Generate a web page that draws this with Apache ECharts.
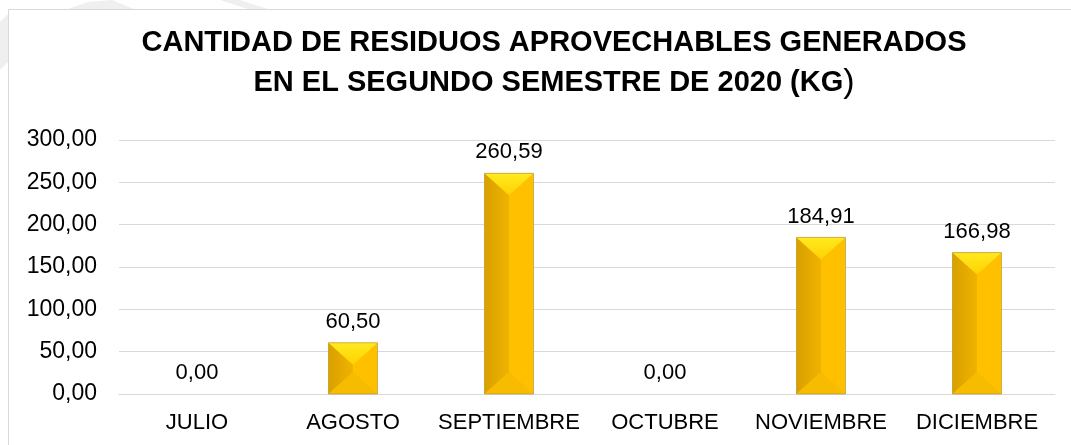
<!DOCTYPE html>
<html lang="es">
<head>
    <meta charset="UTF-8">
    <title>Residuos aprovechables 2020</title>
    <script src="https://cdn.jsdelivr.net/npm/echarts@6/dist/echarts.min.js"></script>
    <style>
        html, body { margin: 0; padding: 0; background: #fff; }
    </style>
</head>
<body>
<div id="main" style="width: 1071px;height:445px;"></div>
<script type="text/javascript">
    // datos
    var meses = ["JULIO", "AGOSTO", "SEPTIEMBRE", "OCTUBRE", "NOVIEMBRE", "DICIEMBRE"];
    var kilos = [0, 60.50, 260.59, 0, 184.91, 166.98];
    var ejeMin = 0, ejeMax = 300, ejePaso = 50;

    var fuente = '"Liberation Sans", Arial, sans-serif';

    function coma(v) {
        return v.toFixed(2).replace('.', ',');
    }

    // barra con efecto bisel (estilo Excel)
    function barraBisel(params, api) {
        var idx = api.value(0);
        var val = api.value(1);
        var top = api.coord([idx, val]);
        var base = api.coord([idx, 0]);
        var w = 49;
        var x0 = top[0] - w / 2, x1 = top[0] + w / 2, xc = top[0];
        var y0 = top[1], y1 = base[1];
        var h = y1 - y0;
        var hijos = [];
        if (h > 0.5) {
            var d = Math.min(22, h / 2);
            hijos.push({
                type: 'rect',
                shape: { x: x0, y: y0, width: w, height: h },
                style: { fill: '#FFC000' }
            });
            hijos.push({
                type: 'polygon',
                shape: { points: [[x0, y0], [xc, y0 + d], [xc, y1 - d], [x0, y1]] },
                style: {
                    fill: new echarts.graphic.LinearGradient(0, 0, 1, 0, [
                        { offset: 0, color: '#D9A000' },
                        { offset: 1, color: '#EFB300' }
                    ])
                }
            });
            hijos.push({
                type: 'polygon',
                shape: { points: [[x0, y0], [x1, y0], [xc, y0 + d]] },
                style: {
                    fill: new echarts.graphic.LinearGradient(0, 0, 0, 1, [
                        { offset: 0, color: '#FFEA20' },
                        { offset: 1, color: '#FFD200' }
                    ])
                }
            });
            hijos.push({
                type: 'polygon',
                shape: { points: [[x0, y1], [x1, y1], [xc, y1 - d]] },
                style: { fill: '#F7BB00' }
            });
            hijos.push({
                type: 'rect',
                shape: { x: x0, y: y0, width: w, height: h },
                style: { fill: 'none', stroke: 'rgba(190,150,60,0.7)', lineWidth: 1 }
            });
        }
        hijos.push({
            type: 'text',
            style: {
                text: coma(val),
                x: xc,
                y: y0 - 10,
                align: 'center',
                verticalAlign: 'bottom',
                fill: '#000',
                font: '22px ' + fuente
            }
        });
        return { type: 'group', children: hijos };
    }

    var myChart = echarts.init(document.getElementById('main'));
    myChart.setOption({
        animation: false,
        backgroundColor: '#fff',
        graphic: [
            // restos de marca de agua fuera del marco
            { type: 'polygon', z: -10, shape: { points: [[0, 22], [0, 70], [8, 62], [8, 14]] }, style: { fill: '#EFEFEF' } },
            { type: 'polygon', z: -10, shape: { points: [[68, 9], [88, 2], [112, 0], [134, 9]] }, style: { fill: '#EFEFEF' } },
            { type: 'polygon', z: -10, shape: { points: [[220, 0], [240, 0], [268, 9], [248, 9]] }, style: { fill: '#EFEFEF' } },
            {
                type: 'rect', z: -5,
                shape: { x: 8.5, y: 9.5, width: 1100, height: 500 },
                style: { fill: '#fff', stroke: '#D9D9D9', lineWidth: 1 }
            }
        ],
        title: {
            text: '{b|CANTIDAD DE RESIDUOS APROVECHABLES GENERADOS}\n{b|EN EL SEGUNDO SEMESTRE DE 2020 (KG}{p|)}',
            left: 549,
            top: 18,
            textAlign: 'center',
            textStyle: {
                rich: {
                    b: {
                        fontFamily: fuente,
                        fontWeight: 'bold',
                        fontSize: 29,
                        lineHeight: 40,
                        color: '#000'
                    },
                    p: {
                        fontFamily: fuente,
                        fontWeight: 'normal',
                        fontSize: 34,
                        lineHeight: 40,
                        color: '#000'
                    }
                }
            }
        },
        grid: {
            left: 119,
            right: 16,
            top: 140,
            bottom: 51,
            containLabel: false
        },
        xAxis: {
            type: 'category',
            data: meses,
            axisLine: { show: true, lineStyle: { color: '#D9D9D9', width: 1 } },
            axisTick: { show: false },
            axisLabel: {
                interval: 0,
                color: '#000',
                fontSize: 22,
                margin: 18,
                fontFamily: fuente
            }
        },
        yAxis: {
            type: 'value',
            min: ejeMin,
            max: ejeMax,
            interval: ejePaso,
            axisLine: { show: false },
            axisTick: { show: false },
            splitLine: { lineStyle: { color: '#D9D9D9', width: 1 } },
            axisLabel: {
                color: '#000',
                fontSize: 23,
                margin: 22,
                fontFamily: fuente,
                formatter: function (v) { return coma(v); }
            }
        },
        series: [{
            name: 'Kg',
            type: 'custom',
            renderItem: barraBisel,
            encode: { x: 0, y: 1 },
            data: kilos.map(function (v, i) { return [i, v]; })
        }]
    });
</script>
</body>
</html>
